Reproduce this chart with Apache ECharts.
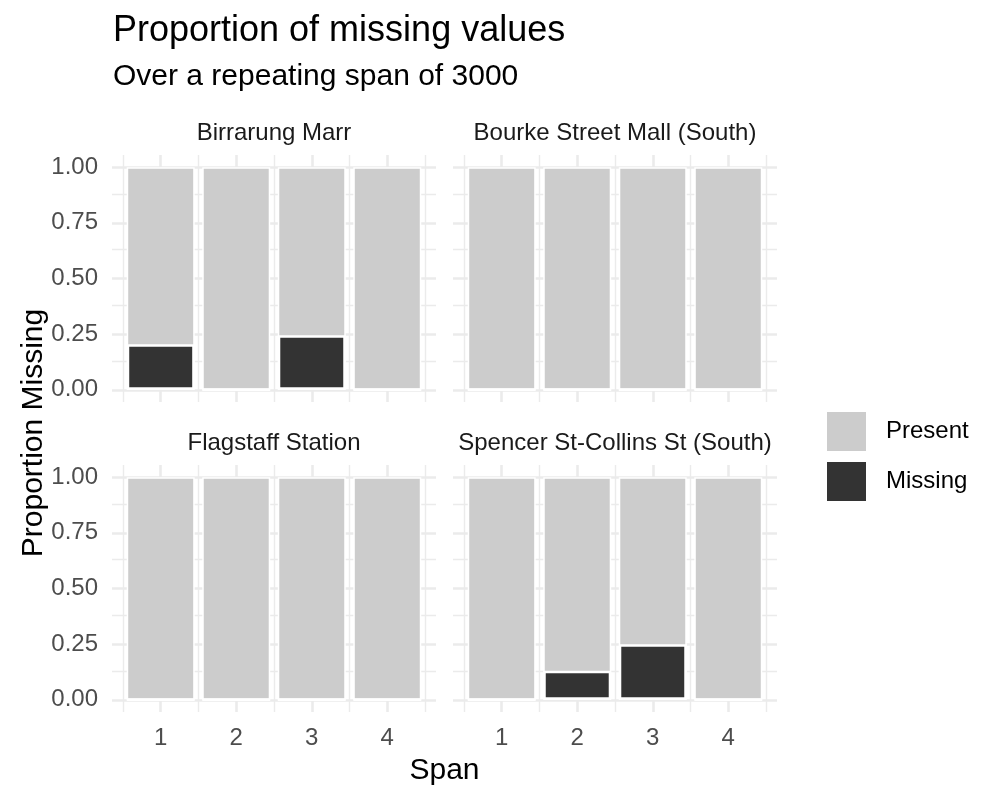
<!DOCTYPE html>
<html>
<head>
<meta charset="utf-8">
<script src="https://cdn.jsdelivr.net/npm/echarts@6/dist/echarts.min.js"></script>
<style>html,body{margin:0;padding:0;background:#fff}#chart{width:1000px;height:800px}</style>
</head>
<body>
<div id="chart"></div>
<script>
const facetNames = ['Birrarung Marr', 'Bourke Street Mall (South)', 'Flagstaff Station', 'Spencer St-Collins St (South)'];
const spans = [1, 2, 3, 4];
const missingBirrarung = [0.205, 0, 0.245, 0];
const missingBourke = [0, 0, 0, 0];
const missingFlagstaff = [0, 0, 0, 0];
const missingSpencer = [0, 0.13, 0.25, 0];
const yTickLabels = [0, 0.25, 0.5, 0.75, 1];
const xMajorGrid = [1, 2, 3, 4];
const xMinorGrid = [0.5, 1.5, 2.5, 3.5, 4.5];
const yMajorGrid = [0, 0.25, 0.5, 0.75, 1];
const yMinorGrid = [0.125, 0.375, 0.625, 0.875];

const missingByFacet = [missingBirrarung, missingBourke, missingFlagstaff, missingSpencer];

const FONT = 'Liberation Sans';
const xMin = 0.355, xMax = 4.645, yMin = -0.055, yMax = 1.055;
const panels = [
  {left: 112, top: 155},
  {left: 453, top: 155},
  {left: 112, top: 465},
  {left: 453, top: 465}
];
const PW = 324, PH = 247;
const barW = PW / (xMax - xMin) * 0.9;

const grid = [], xAxis = [], yAxis = [], series = [], title = [];
title.push({text: 'Proportion of missing values', left: 113, top: 13, padding: 0,
  textStyle: {fontFamily: FONT, fontSize: 36, fontWeight: 'normal', color: '#000'}});
title.push({text: 'Over a repeating span of 3000', left: 113, top: 62, padding: 0,
  textStyle: {fontFamily: FONT, fontSize: 30, fontWeight: 'normal', color: '#000'}});

panels.forEach((p, i) => {
  grid.push({left: p.left, top: p.top, width: PW, height: PH, containLabel: false});
  const bottomRow = i >= 2, leftCol = i % 2 === 0;
  xAxis.push({type: 'value', gridIndex: i, min: xMin, max: xMax,
    axisLine: {show: false}, axisTick: {show: false}, splitLine: {show: false},
    axisLabel: {show: bottomRow, customValues: spans, margin: 14,
      fontFamily: FONT, fontSize: 24, color: '#4d4d4d'}});
  yAxis.push({type: 'value', gridIndex: i, min: yMin, max: yMax,
    axisLine: {show: false}, axisTick: {show: false}, splitLine: {show: false},
    axisLabel: {show: leftCol, customValues: yTickLabels, margin: 14,
      fontFamily: FONT, fontSize: 24, color: '#4d4d4d',
      formatter: v => Number(v).toFixed(2)}});
  title.push({text: facetNames[i], left: p.left + PW / 2, textAlign: 'center',
    top: p.top - 34, padding: 0,
    textStyle: {fontFamily: FONT, fontSize: 24, fontWeight: 'normal', color: '#1a1a1a'}});

  const gl = [];
  xMinorGrid.forEach(v => gl.push({xAxis: v, lineStyle: {width: 1.4}}));
  yMinorGrid.forEach(v => gl.push({yAxis: v, lineStyle: {width: 1.4}}));
  xMajorGrid.forEach(v => gl.push({xAxis: v, lineStyle: {width: 2.6}}));
  yMajorGrid.forEach(v => gl.push({yAxis: v, lineStyle: {width: 2.6}}));
  series.push({type: 'line', xAxisIndex: i, yAxisIndex: i, data: [], silent: true, z: 0,
    markLine: {silent: true, symbol: 'none', z: 0, animation: false, label: {show: false},
      lineStyle: {color: '#ebebeb', type: 'solid'}, emphasis: {disabled: true}, data: gl}});

  const miss = missingByFacet[i];
  // Present fills the rest of each bar above Missing (whole bar = 1), Missing drawn over it from 0.
  series.push({name: 'Present', type: 'bar', xAxisIndex: i, yAxisIndex: i,
    barWidth: barW, barGap: '-100%', z: 2, animation: false,
    itemStyle: {color: '#cccccc', borderColor: '#ffffff', borderWidth: 1.5},
    data: spans.map((s, k) => [s, miss[k] + (1 - miss[k])])});
  series.push({name: 'Missing', type: 'bar', xAxisIndex: i, yAxisIndex: i,
    barWidth: barW, barGap: '-100%', z: 3, animation: false,
    itemStyle: {color: '#333333', borderColor: '#ffffff', borderWidth: 2.5},
    data: spans.map((s, k) => [s, miss[k]])});
});

const chart = echarts.init(document.getElementById('chart'), null, {renderer: 'canvas'});
chart.setOption({
  backgroundColor: '#ffffff',
  animation: false,
  title: title,
  grid: grid,
  xAxis: xAxis,
  yAxis: yAxis,
  legend: {
    data: ['Present', 'Missing'], orient: 'vertical', left: 825, top: 410, padding: 0,
    itemWidth: 41, itemHeight: 41, itemGap: 7, icon: 'rect', selectedMode: false,
    textStyle: {fontFamily: FONT, fontSize: 24, color: '#000', padding: [0, 0, 0, 14]}
  },
  graphic: [
    {type: 'text', x: 444.5, y: 771,
      style: {text: 'Span', fontFamily: FONT, fontSize: 30, fill: '#000',
        textAlign: 'center', textVerticalAlign: 'middle'}},
    {type: 'text', rotation: Math.PI / 2, x: 34, y: 433,
      style: {text: 'Proportion Missing', fontFamily: FONT, fontSize: 30, fill: '#000',
        textAlign: 'center', textVerticalAlign: 'middle'}}
  ],
  series: series
});
</script>
</body>
</html>
